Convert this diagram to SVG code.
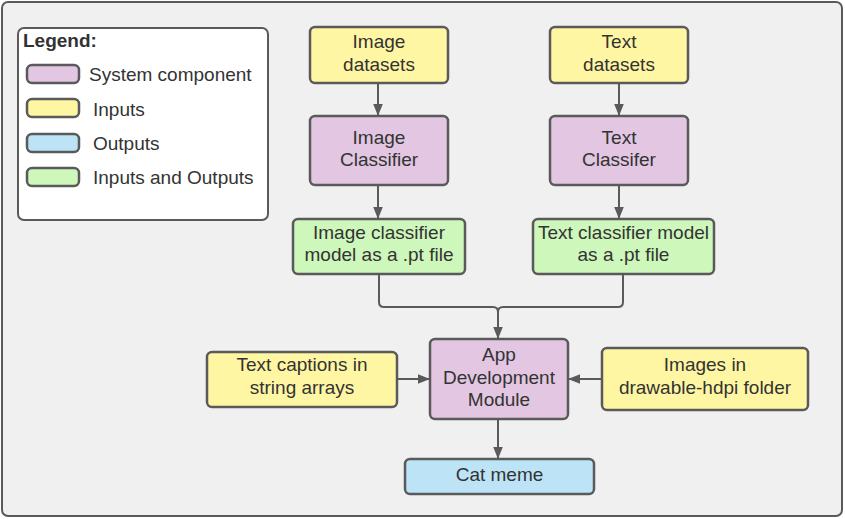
<svg xmlns="http://www.w3.org/2000/svg" width="845" height="519" viewBox="0 0 845 519">
<defs>
<marker id="ah" markerUnits="userSpaceOnUse" markerWidth="12" markerHeight="16" refX="15" refY="6" viewBox="0 0 15 12" orient="auto">
<path d="M0,0 L15,6 L0,12 Z" fill="#5a5a5a"/>
</marker>
<style>
.frame{fill:#f0f0f0;stroke:#5a5a5a;stroke-width:2}
.n{stroke:#5a5a5a;stroke-width:2.5}
.p{fill:#e2c6e2}.y{fill:#fff6a3}.b{fill:#bde3f7}.g{fill:#cdf7bb}
text{font-family:"Liberation Sans",Arial,sans-serif;font-size:19px;fill:#333}
.c{text-anchor:middle}
.e{fill:none;stroke:#5a5a5a;stroke-width:2}
</style>
</defs>
<rect class="frame" x="2" y="2" width="840" height="514" rx="6"/>
<g id="legend">
<rect x="18" y="28" width="250" height="192" rx="6" fill="#ffffff" stroke="#5a5a5a" stroke-width="2"/>
<text x="23" y="47" font-weight="bold">Legend:</text>
<rect class="n p" x="27" y="65" width="52" height="18" rx="5"/>
<text x="89" y="81">System component</text>
<rect class="n y" x="27" y="99" width="52" height="18" rx="5"/>
<text x="93" y="115.5">Inputs</text>
<rect class="n b" x="27" y="134" width="52" height="18" rx="5"/>
<text x="93" y="150">Outputs</text>
<rect class="n g" x="27" y="168" width="52" height="18" rx="5"/>
<text x="93" y="184">Inputs and Outputs</text>
</g>
<g id="connectors">
<line class="e" x1="378" y1="83" x2="378" y2="116" marker-end="url(#ah)"/>
<line class="e" x1="619" y1="83" x2="619" y2="116" marker-end="url(#ah)"/>
<line class="e" x1="378" y1="185" x2="378" y2="219" marker-end="url(#ah)"/>
<line class="e" x1="619" y1="185" x2="619" y2="219" marker-end="url(#ah)"/>
<path class="e" d="M379,274 V302 Q379,307 384,307 H493 Q498,307 498,312"/>
<path class="e" d="M623,274 V302 Q623,307 618,307 H503 Q498,307 498,312"/>
<line class="e" x1="498" y1="311" x2="498" y2="339" marker-end="url(#ah)"/>
<line class="e" x1="397" y1="379" x2="430" y2="379" marker-end="url(#ah)"/>
<line class="e" x1="602" y1="379" x2="568" y2="379" marker-end="url(#ah)"/>
<line class="e" x1="498" y1="419" x2="498" y2="459" marker-end="url(#ah)"/>
</g>
<g id="image-datasets">
<rect class="n y" x="310" y="27" width="138" height="56" rx="5"/>
<text class="c" x="379" y="48">Image</text>
<text class="c" x="379" y="71">datasets</text>
</g>
<g id="text-datasets">
<rect class="n y" x="550" y="27" width="138" height="56" rx="5"/>
<text class="c" x="619" y="48">Text</text>
<text class="c" x="619" y="71">datasets</text>
</g>
<g id="image-classifier">
<rect class="n p" x="310" y="116" width="138" height="69" rx="5"/>
<text class="c" x="379" y="144">Image</text>
<text class="c" x="379" y="166">Classifier</text>
</g>
<g id="text-classifier">
<rect class="n p" x="550" y="116" width="138" height="69" rx="5"/>
<text class="c" x="619" y="144">Text</text>
<text class="c" x="619" y="166">Classifer</text>
</g>
<g id="image-model">
<rect class="n g" x="293" y="219" width="172" height="55" rx="5"/>
<text class="c" x="379" y="239">Image classifier</text>
<text class="c" x="379" y="261">model as a .pt file</text>
</g>
<g id="text-model">
<rect class="n g" x="533" y="219" width="181" height="55" rx="5"/>
<text class="c" x="623.5" y="239">Text classifier model</text>
<text class="c" x="623.5" y="261">as a .pt file</text>
</g>
<g id="app-module">
<rect class="n p" x="430" y="339" width="138" height="80" rx="5"/>
<text class="c" x="499" y="361">App</text>
<text class="c" x="499" y="384">Development</text>
<text class="c" x="499" y="406">Module</text>
</g>
<g id="text-captions">
<rect class="n y" x="207" y="352" width="190" height="55" rx="5"/>
<text class="c" x="302" y="371">Text captions in</text>
<text class="c" x="302" y="394">string arrays</text>
</g>
<g id="images-folder">
<rect class="n y" x="602" y="348" width="206" height="62" rx="5"/>
<text class="c" x="705" y="371">Images in</text>
<text class="c" x="705" y="394">drawable-hdpi folder</text>
</g>
<g id="cat-meme">
<rect class="n b" x="405" y="459" width="189" height="35" rx="5"/>
<text class="c" x="499.5" y="481">Cat meme</text>
</g>
</svg>
